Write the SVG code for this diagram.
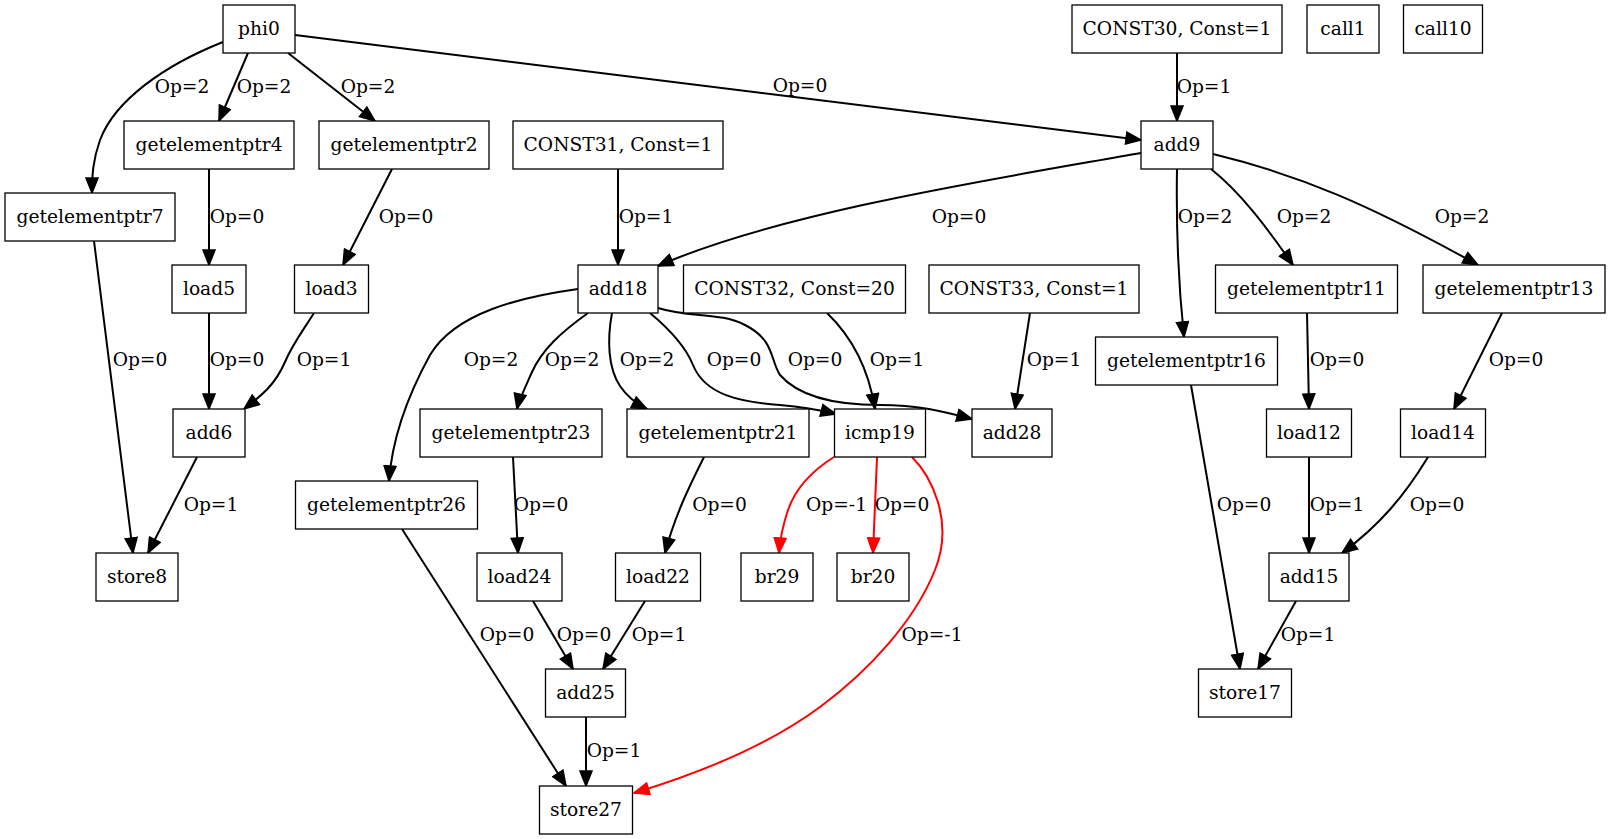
<svg xmlns="http://www.w3.org/2000/svg" width="1610" height="839" viewBox="0 0 1610 839">
<style>
.n rect{fill:#fff;stroke:#000;stroke-width:1.3}
text{font-family:"DejaVu Serif","Liberation Serif",serif;font-size:18.67px;text-anchor:middle;fill:#000}
.e path{fill:none;stroke:#000;stroke-width:2}
.e path.r{stroke:#f00}
</style>
<defs>
<marker id="a" viewBox="-1 -1 18 14" refX="15" refY="6" markerWidth="18" markerHeight="14" markerUnits="userSpaceOnUse" orient="auto"><path d="M0,0 L15,6 L0,12 z" fill="#000" stroke="#000" stroke-width="1.5"/></marker>
<marker id="ar" viewBox="-1 -1 18 14" refX="15" refY="6" markerWidth="18" markerHeight="14" markerUnits="userSpaceOnUse" orient="auto"><path d="M0,0 L15,6 L0,12 z" fill="#f00" stroke="#f00" stroke-width="1.5"/></marker>
</defs>
<rect width="1610" height="839" fill="#fff"/>
<g id="edges" class="e">
<path marker-end="url(#a)" d="M223,42 C165,65 115,100 100,140 C93,160 92,175 92,193"/>
<path marker-end="url(#a)" d="M248,53 L219,121"/>
<path marker-end="url(#a)" d="M288,53 L375,121"/>
<path marker-end="url(#a)" d="M295,35 L1141,140"/>
<path marker-end="url(#a)" d="M1177,53 L1177,121"/>
<path marker-end="url(#a)" d="M1141,153 C1000,178 780,212 658,266"/>
<path marker-end="url(#a)" d="M1177,169 C1176,230 1179,290 1184,337"/>
<path marker-end="url(#a)" d="M1211,169 C1240,192 1265,225 1293,265"/>
<path marker-end="url(#a)" d="M1213,154 C1300,175 1370,205 1478,265"/>
<path marker-end="url(#a)" d="M618,169 L618,265"/>
<path marker-end="url(#a)" d="M209,169 L209,265"/>
<path marker-end="url(#a)" d="M392,169 L343,265"/>
<path marker-end="url(#a)" d="M94,241 L133,553"/>
<path marker-end="url(#a)" d="M209,313 L209,409"/>
<path marker-end="url(#a)" d="M314,313 C302,332 292,345 285,362 C275,385 262,395 244,409"/>
<path marker-end="url(#a)" d="M197,457 L148,553"/>
<path marker-end="url(#a)" d="M578,289 C520,297 455,313 430,355 C408,395 392,440 389,481"/>
<path marker-end="url(#a)" d="M588,313 C560,333 542,350 532,372 C524,390 519,400 517,409"/>
<path marker-end="url(#a)" d="M612,313 C607,340 608,368 620,386 C628,398 637,404 647,409"/>
<path marker-end="url(#a)" d="M650,313 C668,328 685,345 693,365 C705,395 740,402 780,405 C805,407 820,410 836,414"/>
<path marker-end="url(#a)" d="M658,308 C690,318 720,312 745,325 C775,340 770,360 780,375 C800,398 840,405 880,405 C920,405 945,412 972,419"/>
<path marker-end="url(#a)" d="M827,313 C850,335 868,365 875,409"/>
<path marker-end="url(#a)" d="M1030,313 L1015,409"/>
<path marker-end="url(#a)" d="M1307,313 L1309,409"/>
<path marker-end="url(#a)" d="M1502,313 L1454,409"/>
<path marker-end="url(#a)" d="M1191,385 L1240,669"/>
<path marker-end="url(#a)" d="M1309,457 L1309,553"/>
<path marker-end="url(#a)" d="M1428,457 C1405,495 1380,525 1342,553"/>
<path marker-end="url(#a)" d="M1296,601 L1258,669"/>
<path marker-end="url(#a)" d="M513,457 L518,553"/>
<path marker-end="url(#a)" d="M704,457 C690,485 675,515 665,553"/>
<path marker-end="url(#a)" d="M402,529 L566,786"/>
<path marker-end="url(#a)" d="M533,601 L573,669"/>
<path marker-end="url(#a)" d="M645,601 L603,669"/>
<path marker-end="url(#a)" d="M586,717 L586,786"/>
<path class="r" marker-end="url(#ar)" d="M834,457 C810,472 795,490 788,510 C783,525 780,540 779,553"/>
<path class="r" marker-end="url(#ar)" d="M877,457 L873,553"/>
<path class="r" marker-end="url(#ar)" d="M912,457 C930,475 955,520 935,570 C915,620 870,670 820,707 C770,744 700,773 634,793"/>
</g>
<g id="labels">
<text x="182" y="93">Op=2</text>
<text x="264" y="93">Op=2</text>
<text x="368" y="93">Op=2</text>
<text x="800" y="92">Op=0</text>
<text x="1204" y="93">Op=1</text>
<text x="959" y="223">Op=0</text>
<text x="1205" y="223">Op=2</text>
<text x="1304" y="223">Op=2</text>
<text x="1462" y="223">Op=2</text>
<text x="646" y="223">Op=1</text>
<text x="237" y="223">Op=0</text>
<text x="406" y="223">Op=0</text>
<text x="140" y="366">Op=0</text>
<text x="237" y="366">Op=0</text>
<text x="324" y="366">Op=1</text>
<text x="491" y="366">Op=2</text>
<text x="572" y="366">Op=2</text>
<text x="647" y="366">Op=2</text>
<text x="734" y="366">Op=0</text>
<text x="815" y="366">Op=0</text>
<text x="897" y="366">Op=1</text>
<text x="1054" y="366">Op=1</text>
<text x="1337" y="366">Op=0</text>
<text x="1516" y="366">Op=0</text>
<text x="211" y="511">Op=1</text>
<text x="541" y="511">Op=0</text>
<text x="719.5" y="511">Op=0</text>
<text x="836.5" y="511">Op=-1</text>
<text x="902" y="511">Op=0</text>
<text x="1244" y="511">Op=0</text>
<text x="1337" y="511">Op=1</text>
<text x="1437" y="511">Op=0</text>
<text x="507" y="641">Op=0</text>
<text x="584" y="641">Op=0</text>
<text x="659" y="641">Op=1</text>
<text x="932" y="641">Op=-1</text>
<text x="1308" y="641">Op=1</text>
<text x="614" y="757">Op=1</text>
</g>
<g id="phi0" class="n"><rect x="223" y="5" width="72" height="48"/><text x="259" y="35">phi0</text></g>
<g id="CONST30" class="n"><rect x="1072" y="5" width="210" height="48"/><text x="1177" y="35">CONST30, Const=1</text></g>
<g id="call1" class="n"><rect x="1307" y="5" width="72" height="48"/><text x="1343" y="35">call1</text></g>
<g id="call10" class="n"><rect x="1403.5" y="5" width="79" height="48"/><text x="1443" y="35">call10</text></g>
<g id="getelementptr4" class="n"><rect x="124" y="121" width="170" height="48"/><text x="209" y="151">getelementptr4</text></g>
<g id="getelementptr2" class="n"><rect x="319" y="121" width="170" height="48"/><text x="404" y="151">getelementptr2</text></g>
<g id="CONST31" class="n"><rect x="513" y="121" width="210" height="48"/><text x="618" y="151">CONST31, Const=1</text></g>
<g id="add9" class="n"><rect x="1141" y="121" width="72" height="48"/><text x="1177" y="151">add9</text></g>
<g id="getelementptr7" class="n"><rect x="5" y="193" width="170" height="48"/><text x="90" y="223">getelementptr7</text></g>
<g id="load5" class="n"><rect x="172" y="265" width="74" height="48"/><text x="209" y="295">load5</text></g>
<g id="load3" class="n"><rect x="294.5" y="265" width="74" height="48"/><text x="331.5" y="295">load3</text></g>
<g id="add18" class="n"><rect x="578" y="265" width="80" height="48"/><text x="618" y="295">add18</text></g>
<g id="CONST32" class="n"><rect x="683.5" y="265" width="222" height="48"/><text x="794.5" y="295">CONST32, Const=20</text></g>
<g id="CONST33" class="n"><rect x="929" y="265" width="210" height="48"/><text x="1034" y="295">CONST33, Const=1</text></g>
<g id="getelementptr11" class="n"><rect x="1215.5" y="265" width="182" height="48"/><text x="1306.5" y="295">getelementptr11</text></g>
<g id="getelementptr13" class="n"><rect x="1423" y="265" width="182" height="48"/><text x="1514" y="295">getelementptr13</text></g>
<g id="getelementptr16" class="n"><rect x="1095.5" y="337" width="182" height="48"/><text x="1186.5" y="367">getelementptr16</text></g>
<g id="add6" class="n"><rect x="173" y="409" width="72" height="48"/><text x="209" y="439">add6</text></g>
<g id="getelementptr23" class="n"><rect x="420" y="409" width="182" height="48"/><text x="511" y="439">getelementptr23</text></g>
<g id="getelementptr21" class="n"><rect x="627" y="409" width="182" height="48"/><text x="718" y="439">getelementptr21</text></g>
<g id="icmp19" class="n"><rect x="834.5" y="409" width="91" height="48"/><text x="880" y="439">icmp19</text></g>
<g id="add28" class="n"><rect x="972" y="409" width="80" height="48"/><text x="1012" y="439">add28</text></g>
<g id="load12" class="n"><rect x="1266.5" y="409" width="85" height="48"/><text x="1309" y="439">load12</text></g>
<g id="load14" class="n"><rect x="1400.5" y="409" width="85" height="48"/><text x="1443" y="439">load14</text></g>
<g id="getelementptr26" class="n"><rect x="295.5" y="481" width="182" height="48"/><text x="386.5" y="511">getelementptr26</text></g>
<g id="store8" class="n"><rect x="96" y="553" width="82" height="48"/><text x="137" y="583">store8</text></g>
<g id="load24" class="n"><rect x="477" y="553" width="85" height="48"/><text x="519.5" y="583">load24</text></g>
<g id="load22" class="n"><rect x="615.5" y="553" width="85" height="48"/><text x="658" y="583">load22</text></g>
<g id="br29" class="n"><rect x="741" y="553" width="72" height="48"/><text x="777" y="583">br29</text></g>
<g id="br20" class="n"><rect x="837" y="553" width="72" height="48"/><text x="873" y="583">br20</text></g>
<g id="add15" class="n"><rect x="1269" y="553" width="80" height="48"/><text x="1309" y="583">add15</text></g>
<g id="add25" class="n"><rect x="545.5" y="669" width="80" height="48"/><text x="585.5" y="699">add25</text></g>
<g id="store17" class="n"><rect x="1198.5" y="669" width="93" height="48"/><text x="1245" y="699">store17</text></g>
<g id="store27" class="n"><rect x="539.5" y="786" width="93" height="48"/><text x="586" y="816">store27</text></g>
</svg>
